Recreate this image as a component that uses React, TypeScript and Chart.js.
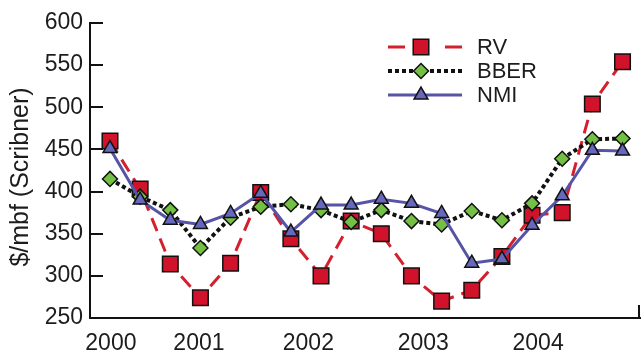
import React, { useEffect, useRef } from 'react';
import { Chart, registerables } from 'chart.js';
import { drawPoint } from 'chart.js/helpers';

Chart.register(...registerables);

// ---- data ----
const xTickLabels = ['2000', '2001', '2002', '2003', '2004'];
const xTickPositions = [0.03, 2.95, 6.58, 10.39, 14.2];
const seriesNames = ['RV', 'BBER', 'NMI'];
const rvValues = [460, 403, 314, 274, 315, 399, 344, 300, 365, 350, 300, 270, 283, 323, 372, 375, 504, 554];
const bberValues = [415, 394, 378, 333, 369, 382, 385, 378, 364, 378, 365, 361, 377, 366, 386, 439, 462, 463];
const nmiValues = [451, 390, 366, 361, 374, 398, 352, 384, 384, 391, 386, 374, 315, 320, 360, 395, 449, 448];
const yTitle = '$/mbf (Scribner)';
const yMin = 250;
const yMax = 600;
const yStep = 50;

const FONT = '"Liberation Sans", Arial, Helvetica, sans-serif';
const TEXT = '#1c1c1c';

const styles = [
  { line: '#d3202e', fill: '#d0122b', dash: [14, 8], width: 3, pointStyle: 'rect', radius: 11, legendDash: [17, 40, 17] },
  { line: '#111111', fill: '#74c044', dash: [4, 3], width: 4, pointStyle: 'rectRot', radius: 7.5, legendDash: [4, 3] },
  { line: '#5753a6', fill: '#6668bd', dash: [], width: 3, pointStyle: 'triangle', radius: 8, legendDash: [] },
];

const decorPlugin = {
  id: 'decor',
  beforeDatasetsDraw(chart: any) {
    const ctx = chart.ctx;
    const xs = chart.scales.x;
    const ys = chart.scales.y;
    ctx.save();
    ctx.strokeStyle = '#111';
    ctx.lineWidth = 2;
    ys.ticks.forEach((t: any) => {
      const py = Math.round(ys.getPixelForValue(t.value));
      ctx.beginPath();
      ctx.moveTo(xs.left, py);
      ctx.lineTo(xs.left + 13, py);
      ctx.stroke();
    });
    ctx.beginPath();
    ctx.moveTo(xs.right - 1, ys.bottom);
    ctx.lineTo(xs.right - 1, ys.bottom - 13);
    ctx.stroke();
    // y title
    ctx.translate(21, 177);
    ctx.rotate(-Math.PI / 2);
    ctx.font = `25px ${FONT}`;
    ctx.fillStyle = TEXT;
    ctx.textAlign = 'center';
    ctx.textBaseline = 'middle';
    ctx.fillText(yTitle, 0, 0);
    ctx.restore();
  },
  afterDraw(chart: any) {
    const ctx = chart.ctx;
    const rows = [47, 71, 95];
    ctx.save();
    seriesNames.forEach((name, i) => {
      const s = styles[i];
      const y = rows[i];
      ctx.beginPath();
      ctx.setLineDash(s.legendDash);
      ctx.strokeStyle = s.line;
      ctx.lineWidth = s.width;
      ctx.moveTo(388, y);
      ctx.lineTo(462, y);
      ctx.stroke();
      ctx.setLineDash([]);
      ctx.fillStyle = s.fill;
      ctx.strokeStyle = '#111';
      ctx.lineWidth = 1.5;
      drawPoint(ctx, { pointStyle: s.pointStyle, radius: s.radius, rotation: 0, borderWidth: 1.5 } as any, 421, y);
      ctx.font = `22px ${FONT}`;
      ctx.fillStyle = TEXT;
      ctx.textAlign = 'left';
      ctx.textBaseline = 'middle';
      ctx.fillText(name, 477, y + 1);
    });
    ctx.restore();
  },
};

export default function App() {
  const ref = useRef<HTMLCanvasElement>(null);
  useEffect(() => {
    if (!ref.current) return;
    const all = [rvValues, bberValues, nmiValues];
    const orders = [2, 1, 0];
    const chart = new Chart(ref.current, {
      type: 'line',
      data: {
        datasets: all.map((vals, i) => ({
          label: seriesNames[i],
          data: vals.map((v, k) => ({ x: k, y: v })),
          borderColor: styles[i].line,
          borderWidth: styles[i].width,
          borderDash: styles[i].dash,
          backgroundColor: styles[i].fill,
          pointStyle: styles[i].pointStyle as any,
          pointRadius: styles[i].radius,
          pointBackgroundColor: styles[i].fill,
          pointBorderColor: '#111',
          pointBorderWidth: 1.5,
          tension: 0,
          fill: false,
          clip: false,
          order: orders[i],
        })),
      },
      options: {
        animation: false,
        responsive: false,
        layout: { autoPadding: false, padding: { top: 23, right: 1, left: 0, bottom: 0 } },
        plugins: { legend: { display: false }, tooltip: { enabled: false } },
        scales: {
          x: {
            type: 'linear',
            min: -0.663,
            max: 17.58,
            afterBuildTicks: (scale: any) => {
              scale.ticks = xTickPositions.map((v) => ({ value: v }));
            },
            afterFit: (scale: any) => {
              scale.height = 35;
              scale.paddingLeft = 0;
              scale.paddingRight = 0;
            },
            grid: { drawOnChartArea: false, drawTicks: false },
            border: { display: true, color: '#111', width: 2 },
            ticks: {
              autoSkip: false,
              maxRotation: 0,
              padding: 12,
              color: TEXT,
              font: { family: FONT, size: 23 },
              callback: (_v: any, i: number) => xTickLabels[i],
            },
          },
          y: {
            type: 'linear',
            min: yMin,
            max: yMax,
            afterFit: (scale: any) => {
              scale.width = 90;
            },
            grid: { drawOnChartArea: false, drawTicks: false },
            border: { display: true, color: '#111', width: 2 },
            ticks: {
              stepSize: yStep,
              padding: 7,
              color: TEXT,
              font: { family: FONT, size: 23 },
            },
          },
        },
      },
      plugins: [decorPlugin],
    });
    return () => chart.destroy();
  }, []);
  return (
    <div style={{ position: 'absolute', left: 0, top: 0, width: 641, height: 353, background: '#fff' }}>
      <canvas ref={ref} width={641} height={353} style={{ display: 'block' }} />
    </div>
  );
}
